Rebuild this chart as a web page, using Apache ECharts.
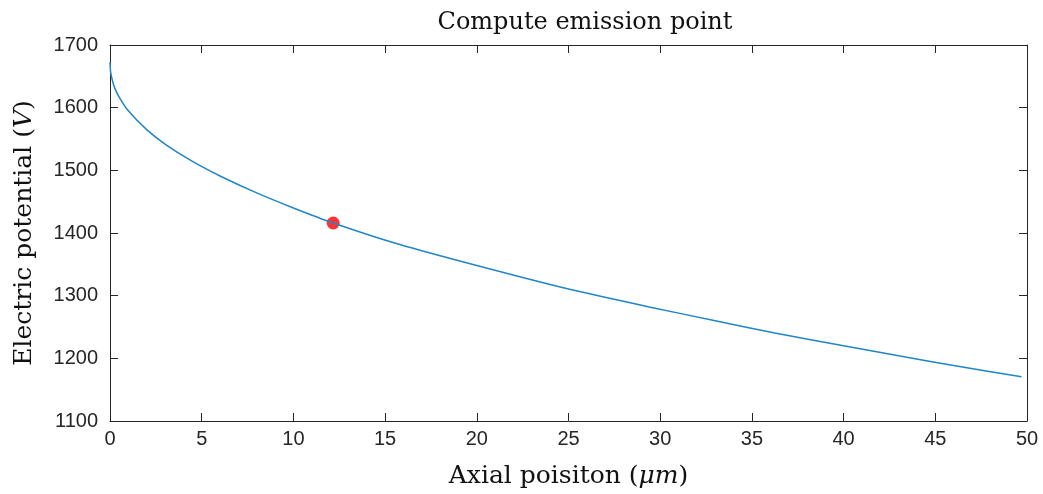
<!DOCTYPE html>
<html>
<head>
<meta charset="utf-8">
<script src="https://cdn.jsdelivr.net/npm/echarts@6/dist/echarts.min.js"></script>
<style>
html,body{margin:0;padding:0;background:#fff;}
#chart{width:1043px;height:494px;}
</style>
</head>
<body>
<div id="chart"></div>
<script>
// Data
const positions = [0, 0.03, 0.1, 0.25, 0.5, 1, 2, 3, 4.45, 6, 8, 10, 12.17, 15.8, 20, 25, 29.4, 33, 36.25, 40, 43, 46, 49.7];
const potentials = [1673, 1658, 1647, 1632, 1617, 1595, 1565, 1542, 1515, 1491, 1464, 1440, 1416, 1381.5, 1348, 1310.5, 1282, 1260, 1240.5, 1220, 1204, 1188.5, 1170.5];
const emissionPoint = [12.17, 1416];
const xTicks = {min: 0, max: 50, interval: 5};
const yTicks = {min: 1100, max: 1700, interval: 100};

const lineData = positions.map((x, i) => [x, potentials[i]]);

const axisColor = '#262626';
const tickFont = {color: axisColor, fontFamily: 'Liberation Sans', fontSize: 20};
const serif = 'DejaVu Serif';

const chart = echarts.init(document.getElementById('chart'));
chart.setOption({
  animation: false,
  backgroundColor: '#fff',
  title: {
    text: 'Compute emission point',
    left: 580, top: 6, textAlign: 'center',
    textStyle: {fontFamily: serif, fontWeight: 'normal', fontSize: 24, color: '#111'}
  },
  grid: {left: 110, right: 16, top: 45, bottom: 72, containLabel: false},
  xAxis: [{
    type: 'value', min: xTicks.min, max: xTicks.max, interval: xTicks.interval,
    position: 'bottom',
    name: 'Axial poisiton ({i|μm})',
    nameLocation: 'middle', nameGap: 43,
    nameTextStyle: {fontFamily: serif, fontSize: 25, color: '#111',
      rich: {i: {fontFamily: serif, fontStyle: 'italic', fontSize: 25, color: '#111'}}},
    axisLine: {show: true, onZero: false, lineStyle: {color: axisColor, width: 1}},
    axisTick: {show: true, inside: true, length: 8, lineStyle: {color: axisColor}},
    axisLabel: Object.assign({margin: 8, formatter: v => String(v)}, tickFont),
    splitLine: {show: false}
  }, {
    type: 'value', min: xTicks.min, max: xTicks.max, interval: xTicks.interval,
    position: 'top',
    axisLine: {show: true, onZero: false, lineStyle: {color: axisColor, width: 1}},
    axisTick: {show: true, inside: true, length: 8, lineStyle: {color: axisColor}},
    axisLabel: {show: false},
    splitLine: {show: false}
  }],
  yAxis: [{
    type: 'value', min: yTicks.min, max: yTicks.max, interval: yTicks.interval,
    position: 'left',
    name: 'Electric potential ({i|V})',
    nameLocation: 'middle', nameGap: 73,
    nameTextStyle: {fontFamily: serif, fontSize: 25, color: '#111',
      rich: {i: {fontFamily: serif, fontStyle: 'italic', fontSize: 25, color: '#111'}}},
    axisLine: {show: true, onZero: false, lineStyle: {color: axisColor, width: 1}},
    axisTick: {show: true, inside: true, length: 8, lineStyle: {color: axisColor}},
    axisLabel: Object.assign({margin: 12, formatter: v => String(v)}, tickFont),
    splitLine: {show: false}
  }, {
    type: 'value', min: yTicks.min, max: yTicks.max, interval: yTicks.interval,
    position: 'right',
    axisLine: {show: true, onZero: false, lineStyle: {color: axisColor, width: 1}},
    axisTick: {show: true, inside: true, length: 8, lineStyle: {color: axisColor}},
    axisLabel: {show: false},
    splitLine: {show: false}
  }],
  series: [{
    type: 'line', xAxisIndex: 0, yAxisIndex: 0,
    data: lineData, smooth: 0.2, showSymbol: false,
    lineStyle: {color: '#1f86c8', width: 1.5}
  }, {
    type: 'scatter', xAxisIndex: 0, yAxisIndex: 0,
    data: [emissionPoint], symbolSize: 13,
    itemStyle: {color: '#ff0000'}
  }]
});
</script>
</body>
</html>
